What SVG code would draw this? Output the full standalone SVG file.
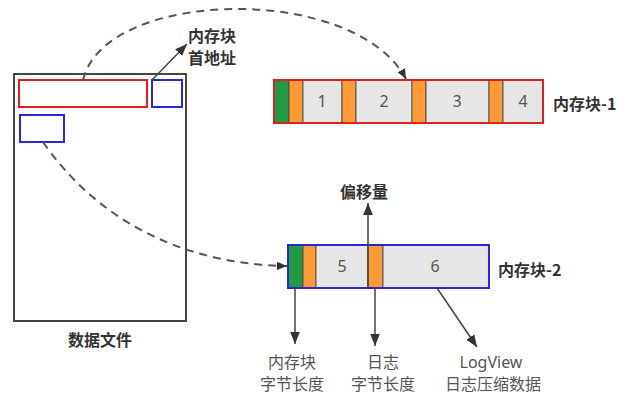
<svg xmlns="http://www.w3.org/2000/svg" width="622" height="397" viewBox="0 0 622 397">
<defs>
<style>
.t{font-family:"Noto Sans CJK SC","Noto Sans",sans-serif;}
.b{font-weight:bold;font-size:16px;fill:#333;}
.r{font-size:16px;fill:#555;text-anchor:middle;}
.n{font-family:"Noto Sans","Noto Sans CJK SC",sans-serif;font-size:16px;fill:#555;text-anchor:middle;}
.g{fill:#1f9a45;stroke:#444;stroke-width:1;}
.o{fill:#ff9a35;stroke:#555;stroke-width:1;}
.s{fill:#e6e6e6;stroke:#555;stroke-width:1;}
.ln{stroke:#444;stroke-width:1.5;fill:none;}
.dash{stroke:#555;stroke-width:2;fill:none;stroke-dasharray:8,6;}
</style>
<marker id="ah" viewBox="0 0 10 10" refX="10" refY="5" markerWidth="10" markerHeight="10" markerUnits="userSpaceOnUse" orient="auto">
<path d="M0,0.8 L10,5 L0,9.2 Z" fill="#333"/>
</marker>
<marker id="ah2" viewBox="0 0 10 10" refX="10" refY="5" markerWidth="12" markerHeight="12" markerUnits="userSpaceOnUse" orient="auto">
<path d="M0,1 L10,5 L0,9 Z" fill="#333"/>
</marker>
</defs>
<rect width="622" height="397" fill="#fff"/>

<g id="datafile">
<rect x="14" y="74" width="172" height="247" fill="#fff" stroke="#444" stroke-width="2"/>
<rect x="19" y="80" width="128" height="27" fill="none" stroke="#e02020" stroke-width="2"/>
<rect x="152" y="80" width="30" height="27" fill="none" stroke="#2828d8" stroke-width="2"/>
<rect x="20" y="115" width="44" height="27" fill="none" stroke="#2828d8" stroke-width="2"/>
<text class="t b" x="100" y="346" text-anchor="middle">数据文件</text>
</g>

<g id="addr-label">
<text class="t b" x="188" y="42">内存块</text>
<text class="t b" x="188" y="64">首地址</text>
</g>

<g id="block1">
<rect x="274" y="80" width="15" height="43" class="g"/>
<rect x="289" y="80" width="14" height="43" class="o"/>
<rect x="303" y="80" width="39" height="43" class="s"/>
<rect x="342" y="80" width="14" height="43" class="o"/>
<rect x="356" y="80" width="56" height="43" class="s"/>
<rect x="412" y="80" width="14" height="43" class="o"/>
<rect x="426" y="80" width="63" height="43" class="s"/>
<rect x="489" y="80" width="14" height="43" class="o"/>
<rect x="503" y="80" width="40" height="43" class="s"/>
<rect x="274" y="80" width="269" height="43" fill="none" stroke="#e02020" stroke-width="2"/>
<text class="n" x="322" y="107">1</text>
<text class="n" x="384" y="107">2</text>
<text class="n" x="457" y="107">3</text>
<text class="n" x="523" y="107">4</text>
<text class="t b" x="553" y="110">内存块-1</text>
</g>

<g id="block2">
<rect x="288" y="245" width="15" height="43" class="g"/>
<rect x="303" y="245" width="13" height="43" class="o"/>
<rect x="316" y="245" width="52" height="43" class="s"/>
<rect x="368" y="245" width="15" height="43" class="o"/>
<rect x="383" y="245" width="106" height="43" class="s"/>
<rect x="288" y="245" width="201" height="43" fill="none" stroke="#2828d8" stroke-width="2"/>
<text class="n" x="342" y="272">5</text>
<text class="n" x="435" y="272">6</text>
<text class="t b" x="498" y="276">内存块-2</text>
</g>

<g id="offset-label">
<text class="t b" x="364" y="198" text-anchor="middle">偏移量</text>
</g>

<g id="bottom-labels">
<text class="t r" x="292" y="368">内存块</text>
<text class="t r" x="292" y="390">字节长度</text>
<text class="t r" x="383" y="368">日志</text>
<text class="t r" x="383" y="390">字节长度</text>
<text class="r" style="font-family:'Noto Sans','Open Sans',sans-serif" x="491" y="368">LogView</text>
<text class="t r" x="493" y="390">日志压缩数据</text>
</g>

<g id="connectors">
<path class="dash" d="M83,80 C105,-12 355,-17 406,79" marker-end="url(#ah)"/>
<path class="dash" d="M43,142 C90,210 170,264 287,266" marker-end="url(#ah)"/>
<line class="ln" x1="152" y1="80" x2="187" y2="44" marker-end="url(#ah2)"/>
<line class="ln" x1="368" y1="288" x2="368" y2="203" marker-end="url(#ah2)"/>
<line class="ln" x1="295" y1="288" x2="295" y2="344" marker-end="url(#ah2)"/>
<line class="ln" x1="375" y1="288" x2="375" y2="346" marker-end="url(#ah2)"/>
<line class="ln" x1="437" y1="288" x2="477" y2="347" marker-end="url(#ah2)"/>
</g>
</svg>
